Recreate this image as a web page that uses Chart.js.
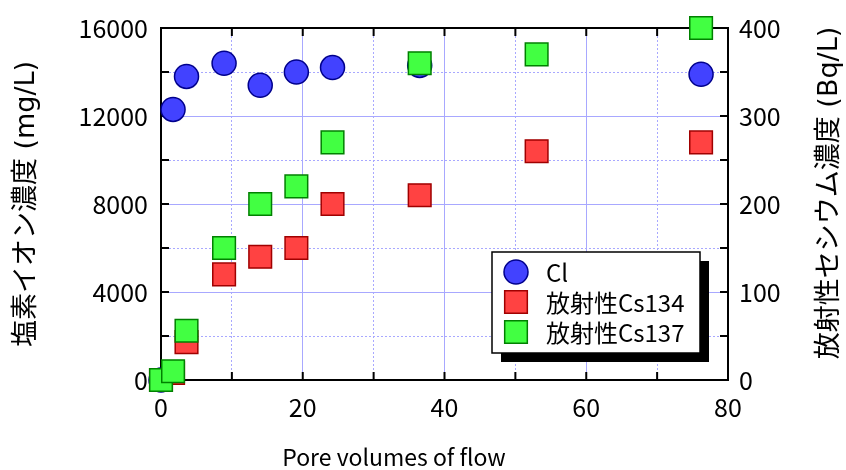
<!DOCTYPE html>
<html>
<head>
<meta charset="utf-8">
<script src="https://cdn.jsdelivr.net/npm/chart.js@4.4.1/dist/chart.umd.min.js"></script>
<style>
  html, body { margin: 0; padding: 0; background: #fff; }
  #wrap { width: 846px; height: 470px; }
</style>
</head>
<body>
<div id="wrap"><canvas id="chart" width="846" height="470"></canvas></div>
<script>
// data
const poreVolumes = [0, 1.7, 3.6, 8.9, 14.0, 19.1, 24.2, 36.5, 53.0, 76.2];
const chloride = [0, 12300, 13800, 14400, 13400, 14000, 14200, 14300, null, 13900];
const cs134 = [0, 8, 43, 120, 140, 150, 200, 210, 260, 270];
const cs137 = [0, 10, 56, 150, 200, 220, 270, 360, 370, 400];
const seriesLabels = ['Cl', '放射性Cs134', '放射性Cs137'];
const xTickLabels = [0, 20, 40, 60, 80];
const leftTickLabels = [0, 4000, 8000, 12000, 16000];
const rightTickLabels = [0, 100, 200, 300, 400];
const xTitle = 'Pore volumes of flow';
const leftTitle = '塩素イオン濃度 (mg/L)';
const rightTitle = '放射性セシウム濃度 (Bq/L)';

const FONT = '"Noto Sans CJK JP", "Liberation Sans", sans-serif';
const TITLE_FONT = '"DejaVu Sans", "Noto Sans CJK JP", sans-serif';
const toPoints = ys => poreVolumes.map((x, i) => ({ x: x, y: ys[i] })).filter(p => p.y !== null);

const gridColor = '#a8a8ff';
const dashFor = major => ctx => (ctx.tick && ctx.tick.value % major !== 0) ? [2, 2] : [];

const frameAndLegend = {
  id: 'frameAndLegend',
  beforeDatasetsDraw(chart) {
    const { ctx, chartArea: a, scales } = chart;
    ctx.save();
    ctx.strokeStyle = '#000';
    ctx.lineWidth = 2;
    ctx.strokeRect(a.left, a.top, a.right - a.left, a.bottom - a.top);
    // inward ticks
    const len = 8;
    ctx.beginPath();
    scales.x.ticks.forEach(t => {
      const px = scales.x.getPixelForValue(t.value);
      ctx.moveTo(px, a.bottom); ctx.lineTo(px, a.bottom - len);
      ctx.moveTo(px, a.top); ctx.lineTo(px, a.top + len);
    });
    scales.y.ticks.forEach(t => {
      const py = scales.y.getPixelForValue(t.value);
      ctx.moveTo(a.left, py); ctx.lineTo(a.left + len, py);
    });
    scales.y2.ticks.forEach(t => {
      const py = scales.y2.getPixelForValue(t.value);
      ctx.moveTo(a.right, py); ctx.lineTo(a.right - len, py);
    });
    ctx.stroke();
    ctx.restore();
  },
  afterDraw(chart) {
    const { ctx } = chart;
    ctx.save();
    ctx.fillStyle = '#000';
    ctx.textAlign = 'center';
    ctx.textBaseline = 'middle';
    // axis titles
    ctx.font = '23px ' + FONT;
    ctx.fillText(xTitle, 394, 457);
    ctx.font = '27px ' + TITLE_FONT;
    ctx.save();
    ctx.translate(27, 204);
    ctx.rotate(-Math.PI / 2);
    ctx.fillText(leftTitle, 0, 0);
    ctx.restore();
    ctx.save();
    ctx.translate(830, 193);
    ctx.rotate(-Math.PI / 2);
    ctx.fillText(rightTitle, 0, 0);
    ctx.restore();

    // legend with drop shadow
    const bx = 492, by = 252, bw = 208, bh = 101, sh = 9;
    ctx.fillStyle = '#000';
    ctx.fillRect(bx + sh, by + sh, bw, bh);
    ctx.fillStyle = '#fff';
    ctx.fillRect(bx, by, bw, bh);
    ctx.strokeStyle = '#000';
    ctx.lineWidth = 1.5;
    ctx.strokeRect(bx, by, bw, bh);

    ctx.font = '24px ' + FONT;
    ctx.textAlign = 'left';
    chart.data.datasets.forEach((ds, i) => {
      const y = by + 20 + i * 30;
      ctx.fillStyle = ds.backgroundColor;
      ctx.strokeStyle = ds.borderColor;
      ctx.lineWidth = ds.borderWidth;
      Chart.helpers.drawPoint(ctx, {
        pointStyle: ds.pointStyle, radius: ds.pointRadius,
        borderWidth: ds.borderWidth, rotation: 0
      }, bx + 24, y);
      ctx.fillStyle = '#000';
      ctx.fillText(seriesLabels[i], bx + 54, y + 1);
    });
    ctx.restore();
  }
};

new Chart(document.getElementById('chart'), {
  type: 'scatter',
  data: {
    datasets: [
      {
        label: seriesLabels[0], data: toPoints(chloride), yAxisID: 'y',
        pointStyle: 'circle', pointRadius: 12, pointHoverRadius: 12,
        backgroundColor: '#4242ff', borderColor: '#00008c', borderWidth: 1.5,
        order: 3, clip: false
      },
      {
        label: seriesLabels[1], data: toPoints(cs134), yAxisID: 'y2',
        pointStyle: 'rect', pointRadius: 16, pointHoverRadius: 16,
        backgroundColor: '#ff4242', borderColor: '#a00000', borderWidth: 1.5,
        order: 2, clip: false
      },
      {
        label: seriesLabels[2], data: toPoints(cs137), yAxisID: 'y2',
        pointStyle: 'rect', pointRadius: 16, pointHoverRadius: 16,
        backgroundColor: '#42ff42', borderColor: '#008000', borderWidth: 1.5,
        order: 1, clip: false
      }
    ]
  },
  options: {
    responsive: false,
    animation: false,
    devicePixelRatio: 1,
    layout: { padding: { top: 26, left: 0, right: 0, bottom: 0 } },
    plugins: { legend: { display: false }, tooltip: { enabled: false } },
    scales: {
      x: {
        type: 'linear', min: 0, max: 80,
        ticks: {
          stepSize: 10, autoSkip: false, maxRotation: 0, padding: 12,
          color: '#000', font: { family: FONT, size: 25 },
          callback: v => xTickLabels.includes(v) ? String(v) : ''
        },
        grid: { drawTicks: false, color: gridColor, lineWidth: 1 },
        border: { display: false, dash: dashFor(20) },
        afterFit: s => { s.height = 90; }
      },
      y: {
        type: 'linear', position: 'left', min: 0, max: 16000,
        ticks: {
          stepSize: 2000, autoSkip: false, padding: 13,
          color: '#000', font: { family: FONT, size: 25 },
          callback: v => leftTickLabels.includes(v) ? String(v) : ''
        },
        grid: { drawTicks: false, color: gridColor, lineWidth: 1 },
        border: { display: false, dash: dashFor(4000) },
        afterFit: s => { s.width = 161; }
      },
      y2: {
        type: 'linear', position: 'right', min: 0, max: 400,
        ticks: {
          stepSize: 50, autoSkip: false, padding: 11,
          color: '#000', font: { family: FONT, size: 25 },
          callback: v => rightTickLabels.includes(v) ? String(v) : ''
        },
        grid: { drawTicks: false, drawOnChartArea: false },
        border: { display: false },
        afterFit: s => { s.width = 118; }
      }
    }
  },
  plugins: [frameAndLegend]
});
</script>
</body>
</html>
